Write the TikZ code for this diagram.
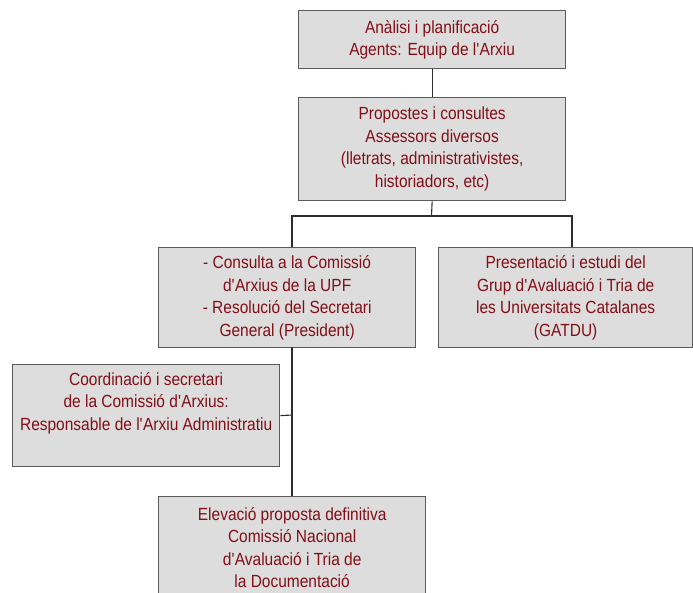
\documentclass[tikz,border=0pt]{standalone}
\usepackage{fontspec}
\setmainfont[FakeStretch=0.88]{Liberation Sans}
\newcommand{\q}{\textquotesingle}
\definecolor{txtred}{RGB}{130,14,22}
\definecolor{boxfill}{RGB}{221,221,221}
\definecolor{boxline}{RGB}{90,90,90}
\definecolor{conn}{RGB}{45,45,45}
\begin{document}
\begin{tikzpicture}[x=1pt,y=-1pt,
  box/.style={draw=boxline, line width=1.3pt, fill=boxfill, text=txtred,
    align=center, inner sep=0pt, anchor=north west,
    font=\fontsize{17.6}{22.5}\selectfont},
  link/.style={draw=conn, line width=1.1pt}]
\useasboundingbox (0,0) rectangle (693,592);
\clip (0,0) rectangle (693,592);
\node[box, minimum width=267pt, minimum height=58pt] (b1) at (298,10)
  {Anàlisi i planificació\\Agents: Equip de l\q Arxiu};
\node[box, minimum width=267pt, minimum height=103pt] (b2) at (298,97)
  {Propostes i consultes\\Assessors diversos\\(lletrats, administrativistes,\\historiadors, etc)};
\node[box, minimum width=257pt, minimum height=100pt] (b3) at (158,247)
  {- Consulta a la Comissió\\d\q Arxius de la UPF\\- Resolució del Secretari\\General (President)};
\node[box, minimum width=254pt, minimum height=100pt] (b4) at (438,247)
  {Presentació i estudi del\\Grup d\q Avaluació i Tria de\\les Universitats Catalanes\\(GATDU)};
\node[box, minimum width=267pt, minimum height=102pt] (b5) at (12,364)
  {Coordinació i secretari\\de la Comissió d\q Arxius:\\Responsable de l\q Arxiu Administratiu\\\strut};
\node[box, minimum width=267pt, minimum height=102pt] (b6) at (158,496)
  {Elevació proposta definitiva\\Comissió Nacional\\d\q Avaluació i Tria de\\la Documentació};
\coordinate (j1) at (431.5,216);
\coordinate (j3) at (292,216);
\coordinate (j4) at (572,216);
\coordinate (v3) at (292,347);
\coordinate (v5) at (292,415);
\draw[link] (b1.south) -- (b2.north);
\draw[link] (b2.south) -- (j1);
\draw[link] (j3 |- b3.north) -- (j3) -- (j4) -- (j4 |- b4.north);
\draw[link] (v3) -- (v3 |- b6.north);
\draw[link] (b5.east) -- (v5);
\end{tikzpicture}
\end{document}
